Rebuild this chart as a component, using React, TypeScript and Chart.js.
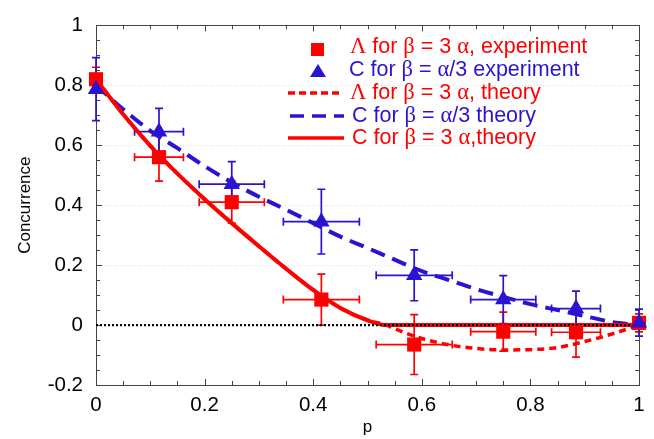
import { useEffect, useRef } from 'react';
import { Chart, registerables } from 'chart.js';

Chart.register(...registerables);

const RED = '#ff0000';
const BLUE = '#2a14d2';

// Experimental data (p values shared by both series)
const expP = [0, 0.116, 0.25, 0.415, 0.586, 0.75, 0.884, 1];
const expPErr = [0, 0.045, 0.06, 0.07, 0.07, 0.06, 0.045, 0];

const lambdaExp = [0.82, 0.56, 0.41, 0.085, -0.065, -0.022, -0.024, 0.007];
const lambdaExpErr = [0.04, 0.08, 0.07, 0.085, 0.1, 0.065, 0.083, 0.03];

const cExp = [0.787, 0.645, 0.47, 0.345, 0.166, 0.085, 0.055, 0.008];
const cExpErr = [0.105, 0.078, 0.075, 0.108, 0.085, 0.08, 0.058, 0.045];

// Theory curves
const cStrongP = [0, 0.05, 0.1, 0.15, 0.2, 0.25, 0.3, 0.35, 0.4, 0.45, 0.5, 0.535, 0.6, 0.7, 0.8, 0.9, 1];
const cStrongC = [0.82, 0.703, 0.598, 0.505, 0.42, 0.34, 0.263, 0.188, 0.117, 0.057, 0.016, 0, 0, 0, 0, 0, 0];

const lambdaTheoryP = [0, 0.05, 0.1, 0.15, 0.2, 0.25, 0.3, 0.35, 0.4, 0.45, 0.5, 0.535, 0.55, 0.6, 0.65, 0.7, 0.75, 0.8, 0.85, 0.9, 0.95, 1];
const lambdaTheoryC = [0.82, 0.703, 0.598, 0.505, 0.42, 0.34, 0.263, 0.188, 0.117, 0.057, 0.016, 0, -0.012, -0.045, -0.066, -0.078, -0.083, -0.082, -0.075, -0.055, -0.03, 0];

const cWeakP = [0, 0.05, 0.1, 0.15, 0.2, 0.25, 0.3, 0.35, 0.4, 0.45, 0.5, 0.55, 0.6, 0.65, 0.7, 0.75, 0.8, 0.85, 0.9, 0.95, 1];
const cWeakC = [0.8, 0.72, 0.648, 0.59, 0.53, 0.476, 0.428, 0.385, 0.34, 0.295, 0.257, 0.218, 0.18, 0.15, 0.12, 0.094, 0.07, 0.05, 0.03, 0.01, 0];

const zeroP = [0, 1];
const zeroC = [0, 0];

const xTickLabels = ['0', '0.2', '0.4', '0.6', '0.8', '1'];
const yTickLabels = ['-0.2', '0', '0.2', '0.4', '0.6', '0.8', '1'];

const legendLabels = [
  'Λ for β = 3 α, experiment',
  'C for β = α/3 experiment',
  'Λ for β = 3 α, theory',
  'C for β = α/3 theory',
  'C for β = 3 α,theory',
];

const SANS = '"Liberation Sans", Arial, Helvetica, sans-serif';
const SERIF = '"Liberation Serif", "Times New Roman", serif';

const pts = (xs: number[], ys: number[]) => xs.map((x, i) => ({ x, y: ys[i] }));

function drawMixed(ctx: CanvasRenderingContext2D, text: string, x: number, y: number, color: string) {
  const isGreek = (ch: string) => /[\u0370-\u03ff]/.test(ch);
  let runs: { t: string; g: boolean }[] = [];
  for (const ch of text) {
    const g = isGreek(ch);
    if (runs.length && runs[runs.length - 1].g === g) runs[runs.length - 1].t += ch;
    else runs.push({ t: ch, g });
  }
  ctx.fillStyle = color;
  ctx.textBaseline = 'middle';
  ctx.textAlign = 'left';
  let cx = x;
  for (const r of runs) {
    ctx.font = r.g ? `22.5px ${SERIF}` : `21.5px ${SANS}`;
    ctx.fillText(r.t, cx, y);
    cx += ctx.measureText(r.t).width;
  }
}

const backgroundPlugin = {
  id: 'bgFrame',
  beforeDatasetsDraw(chart: any) {
    const { ctx, chartArea: a, scales } = chart;
    const ys = scales.y;
    ctx.save();
    // faint grid
    ctx.strokeStyle = 'rgba(0,0,0,0.13)';
    ctx.lineWidth = 1;
    ctx.setLineDash([1, 2]);
    [0.2, 0.4, 0.6, 0.8].forEach((v) => {
      const py = Math.round(ys.getPixelForValue(v)) + 0.5;
      ctx.beginPath();
      ctx.moveTo(a.left, py);
      ctx.lineTo(a.right, py);
      ctx.stroke();
    });
    ctx.setLineDash([]);
    // frame
    ctx.strokeStyle = '#444';
    ctx.lineWidth = 1;
    ctx.strokeRect(Math.round(a.left) + 0.5, Math.round(a.top) + 0.5, Math.round(a.right - a.left), Math.round(a.bottom - a.top));
    // ticks
    const xs = scales.x;
    for (let i = 0; i <= 20; i++) {
      const v = i * 0.05;
      const px = Math.round(xs.getPixelForValue(v)) + 0.5;
      const len = i % 4 === 0 ? 6 : 4;
      ctx.beginPath();
      ctx.moveTo(px, a.bottom);
      ctx.lineTo(px, a.bottom - len);
      ctx.moveTo(px, a.top);
      ctx.lineTo(px, a.top + len);
      ctx.stroke();
    }
    for (let i = 0; i <= 24; i++) {
      const v = -0.2 + i * 0.05;
      const py = Math.round(ys.getPixelForValue(v)) + 0.5;
      const len = i % 4 === 0 ? 6 : 4;
      ctx.beginPath();
      ctx.moveTo(a.left, py);
      ctx.lineTo(a.left + len, py);
      ctx.moveTo(a.right, py);
      ctx.lineTo(a.right - len, py);
      ctx.stroke();
    }
    // error bars
    const series = [
      { c: lambdaExp, e: lambdaExpErr, col: RED },
      { c: cExp, e: cExpErr, col: BLUE },
    ];
    ctx.lineWidth = 1.7;
    series.forEach((s) => {
      ctx.strokeStyle = s.col;
      expP.forEach((p, i) => {
        const px = xs.getPixelForValue(p);
        const py = ys.getPixelForValue(s.c[i]);
        const ey = s.e[i];
        const ex = expPErr[i];
        ctx.beginPath();
        if (ey > 0) {
          const t = ys.getPixelForValue(s.c[i] + ey);
          const b = ys.getPixelForValue(s.c[i] - ey);
          ctx.moveTo(px, t);
          ctx.lineTo(px, b);
          ctx.moveTo(px - 4, t);
          ctx.lineTo(px + 4, t);
          ctx.moveTo(px - 4, b);
          ctx.lineTo(px + 4, b);
        }
        if (ex > 0) {
          const l = xs.getPixelForValue(p - ex);
          const r = xs.getPixelForValue(p + ex);
          ctx.moveTo(l, py);
          ctx.lineTo(r, py);
          ctx.moveTo(l, py - 4);
          ctx.lineTo(l, py + 4);
          ctx.moveTo(r, py - 4);
          ctx.lineTo(r, py + 4);
        }
        ctx.stroke();
      });
    });
    ctx.restore();
  },
};

const legendPlugin = {
  id: 'customLegend',
  afterDraw(chart: any) {
    const { ctx } = chart;
    ctx.save();
    // markers
    ctx.fillStyle = RED;
    ctx.fillRect(311, 43, 13, 13);
    ctx.fillStyle = BLUE;
    ctx.beginPath();
    ctx.moveTo(318, 64);
    ctx.lineTo(326, 77);
    ctx.lineTo(310, 77);
    ctx.closePath();
    ctx.fill();
    // line samples
    ctx.lineWidth = 3.5;
    ctx.strokeStyle = RED;
    ctx.setLineDash([7, 4]);
    ctx.beginPath();
    ctx.moveTo(288, 93);
    ctx.lineTo(343, 93);
    ctx.stroke();
    ctx.strokeStyle = BLUE;
    ctx.setLineDash([14, 8]);
    ctx.beginPath();
    ctx.moveTo(290, 116);
    ctx.lineTo(344, 116);
    ctx.stroke();
    ctx.strokeStyle = RED;
    ctx.setLineDash([]);
    ctx.beginPath();
    ctx.moveTo(288, 138);
    ctx.lineTo(344, 138);
    ctx.stroke();
    // texts
    const rows = [
      { x: 350, y: 47, c: RED },
      { x: 349, y: 70, c: BLUE },
      { x: 350, y: 93, c: RED },
      { x: 352, y: 116, c: BLUE },
      { x: 352, y: 138, c: RED },
    ];
    legendLabels.forEach((t, i) => drawMixed(ctx, t, rows[i].x, rows[i].y, rows[i].c));
    ctx.restore();
  },
};

export default function App() {
  const ref = useRef<HTMLCanvasElement | null>(null);

  useEffect(() => {
    if (!ref.current) return;
    const tickFont = { family: SANS, size: 20.5 };
    const chart = new Chart(ref.current, {
      type: 'scatter',
      data: {
        datasets: [
          {
            label: 'C for β = α/3 experiment',
            data: pts(expP, cExp),
            pointStyle: 'triangle',
            pointRadius: 9.5,
            backgroundColor: BLUE,
            borderColor: BLUE,
            borderWidth: 0,
            showLine: false,
            clip: false,
            order: 0,
          },
          {
            label: 'Λ for β = 3 α, experiment',
            data: pts(expP, lambdaExp),
            pointStyle: 'rect',
            pointRadius: 10,
            backgroundColor: RED,
            borderColor: RED,
            borderWidth: 0,
            showLine: false,
            clip: false,
            order: 1,
          },
          {
            label: 'zero',
            data: pts(zeroP, zeroC),
            showLine: true,
            borderColor: '#000',
            borderWidth: 2.2,
            borderDash: [2, 2],
            pointRadius: 0,
            clip: false,
            order: 2,
          },
          {
            label: 'C for β = 3 α,theory',
            data: pts(cStrongP, cStrongC),
            showLine: true,
            borderColor: RED,
            borderWidth: 4,
            pointRadius: 0,
            cubicInterpolationMode: 'monotone',
            clip: false,
            order: 3,
          },
          {
            label: 'C for β = α/3 theory',
            data: pts(cWeakP, cWeakC),
            showLine: true,
            borderColor: BLUE,
            borderWidth: 4,
            borderDash: [15, 8],
            pointRadius: 0,
            cubicInterpolationMode: 'monotone',
            clip: false,
            order: 4,
          },
          {
            label: 'Λ for β = 3 α, theory',
            data: pts(lambdaTheoryP, lambdaTheoryC),
            showLine: true,
            borderColor: RED,
            borderWidth: 3.5,
            borderDash: [7, 5],
            pointRadius: 0,
            cubicInterpolationMode: 'monotone',
            clip: false,
            order: 5,
          },
        ],
      },
      options: {
        animation: false,
        responsive: false,
        maintainAspectRatio: false,
        layout: { padding: { top: 16, right: 15, left: 0, bottom: 0 } },
        plugins: { legend: { display: false }, tooltip: { enabled: false } },
        scales: {
          x: {
            type: 'linear',
            min: 0,
            max: 1,
            afterFit: (s: any) => {
              s.height = 54;
            },
            grid: { display: false, drawTicks: false },
            border: { display: false },
            ticks: {
              stepSize: 0.2,
              padding: 8,
              font: tickFont,
              color: '#000',
              maxRotation: 0,
              callback: (v: any) => xTickLabels[Math.round(Number(v) / 0.2)] ?? '',
            },
            title: {
              display: true,
              text: 'p',
              font: { family: SANS, size: 17 },
              color: '#000',
              padding: { top: 0, bottom: 1 },
            },
          },
          y: {
            type: 'linear',
            min: -0.2,
            max: 1,
            afterFit: (s: any) => {
              s.width = 96;
            },
            grid: { display: false, drawTicks: false },
            border: { display: false },
            ticks: {
              stepSize: 0.2,
              padding: 13,
              font: tickFont,
              color: '#000',
              callback: (v: any) => yTickLabels[Math.round((Number(v) + 0.2) / 0.2)] ?? '',
            },
            title: {
              display: true,
              text: 'Concurrence',
              font: { family: SANS, size: 17 },
              color: '#000',
              padding: { top: 15, bottom: 0 },
            },
          },
        },
      } as any,
      plugins: [backgroundPlugin, legendPlugin],
    });
    return () => chart.destroy();
  }, []);

  return (
    <div style={{ position: 'fixed', left: 0, top: 0, width: 654, height: 439, background: '#fff' }}>
      <canvas ref={ref} width={654} height={439} />
    </div>
  );
}
